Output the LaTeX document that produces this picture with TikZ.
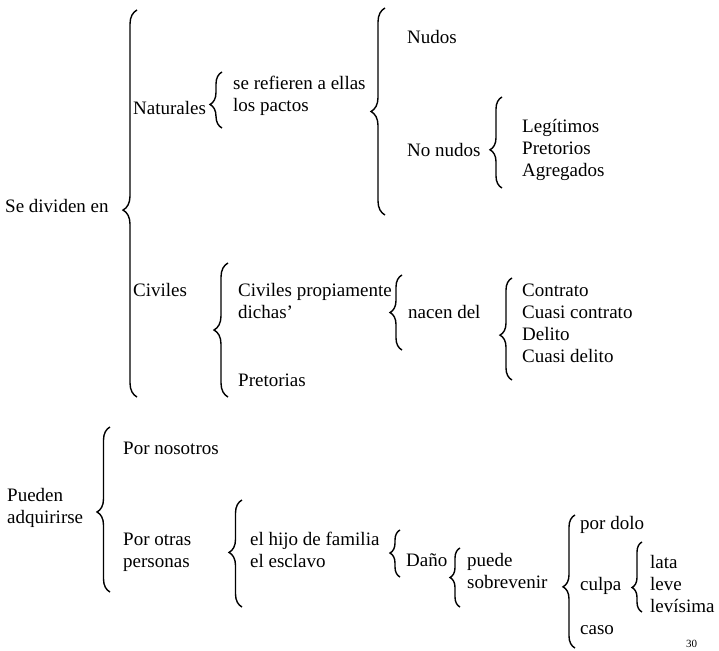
\documentclass[tikz,border=0pt]{standalone}
\usepackage{fontspec}
\setmainfont{Liberation Serif}
\usepackage{tikz}
\usetikzlibrary{decorations.pathreplacing}

\begin{document}
\begin{tikzpicture}[x=1pt, y=-1pt, every node/.style={inner sep=0pt, anchor=west, align=left, font=\fontsize{19}{22}\selectfont}, brc/.style 2 args={decorate, decoration={brace, amplitude=#1, aspect=#2}, line width=1.4pt}]
		\useasboundingbox (0, 0) rectangle (719, 650);
		\node (1)	at (5, 206)		{Se dividen en};
		\node (2)	at (133, 108)	{Naturales};
		\node (3)	at (233, 96)	{se refieren a ellas\\los pactos};
		\node (4)	at (407, 37)	{Nudos};
		\node (5)	at (407, 150)	{No nudos};
		\node (6)	at (522, 150)	{Legítimos\\Pretorios\\Agregados};
		\node (7)	at (133, 290)	{Civiles};
		\node (8)	at (238, 301)	{Civiles propiamente\\dichas'};
		\node (9)	at (238, 380)	{Pretorias};
		\node (10)	at (408, 312)	{nacen del};
		\node (11)	at (522, 323)	{Contrato\\Cuasi contrato\\Delito\\Cuasi delito};
		\node (12)	at (7, 508)		{Pueden\\adquirirse};
		\node (13)	at (123, 448)	{Por nosotros};
		\node (14)	at (123, 552)	{Por otras\\personas};
		\node (15)	at (250, 550)	{el hijo de familia\\el esclavo};
		\node (16)	at (406, 560)	{Daño};
		\node (17)	at (467, 571)	{puede\\sobrevenir};
		\node (18)	at (580, 525)	{por dolo};
		\node (19)	at (580, 586)	{culpa};
		\node (20)	at (580, 630)	{caso};
		\node (21)	at (650, 584)	{lata\\leve\\levísima};
		\node (22)	at (686, 644)	{\fontsize{11}{12}\selectfont 30};
		
		\draw[brc={14pt}{0.483}]	(137, 397) -- (137, 10);
		\draw[brc={12pt}{0.42}]	(222, 128) -- (222, 72);
		\draw[brc={14pt}{0.5}]		(385, 215) -- (385, 8);
		\draw[brc={12pt}{0.42}]	(502, 188) -- (502, 97);
		\draw[brc={14pt}{0.5}]		(228, 397) -- (228, 263);
		\draw[brc={12pt}{0.5}]		(402, 350) -- (402, 275);
		\draw[brc={12pt}{0.44}]	(512, 380) -- (512, 278);
		\draw[brc={13pt}{0.485}]	(110, 592) -- (110, 427);
		\draw[brc={13pt}{0.51}]	(242, 607) -- (242, 500);
		\draw[brc={10pt}{0.51}]	(400, 577) -- (400, 530);
		\draw[brc={10pt}{0.5}]		(460, 607) -- (460, 548);
		\draw[brc={12pt}{0.46}]	(575, 648) -- (575, 515);
		\draw[brc={10pt}{0.35}]	(642, 612) -- (642, 542);
	\end{tikzpicture}
\end{document}
